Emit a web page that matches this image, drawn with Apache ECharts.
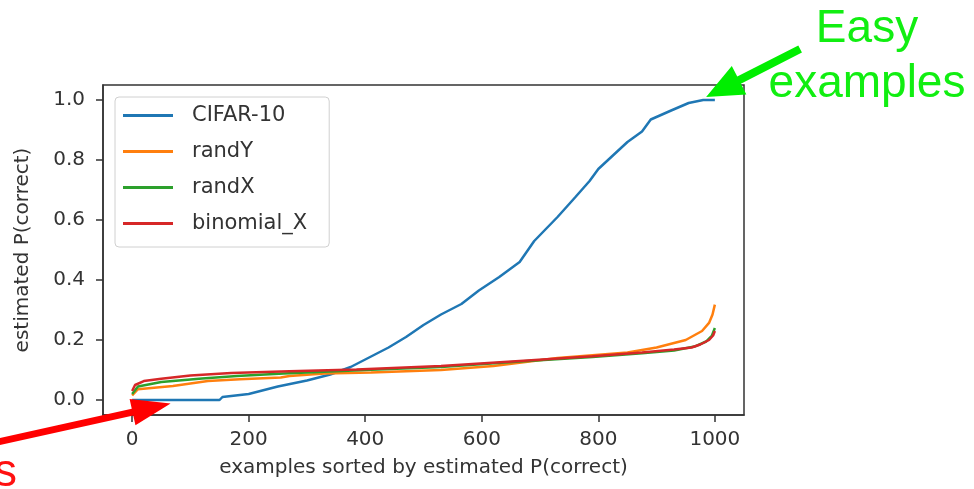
<!DOCTYPE html>
<html>
<head>
<meta charset="utf-8">
<script src="https://cdn.jsdelivr.net/npm/echarts@6/dist/echarts.min.js"></script>
<style>
  html, body { margin: 0; padding: 0; background: #fff; }
  #chart { width: 974px; height: 489px; }
</style>
</head>
<body>
<div id="chart"></div>
<script>
// values
var seriesNames = ['CIFAR-10', 'randY', 'randX', 'binomial_X'];
var seriesColors = ['#1f77b4', '#ff7f0e', '#2ca02c', '#d62728'];

var cifarX = [0, 150, 155, 200, 250, 300, 340, 375, 410, 440, 470, 500, 530, 565, 595, 630, 665, 690, 710, 730, 760, 785, 800, 825, 850, 875, 890, 925, 955, 980, 1000];
var cifarY = [0, 0, 0.01, 0.02, 0.045, 0.065, 0.085, 0.11, 0.145, 0.175, 0.21, 0.25, 0.285, 0.32, 0.365, 0.41, 0.46, 0.53, 0.57, 0.61, 0.675, 0.73, 0.77, 0.815, 0.86, 0.895, 0.935, 0.965, 0.99, 1.0, 1.0];

var randYX = [0, 10, 70, 130, 185, 255, 270, 330, 410, 530, 620, 730, 850, 900, 950, 978, 990, 996, 1000];
var randYY = [0.015, 0.036, 0.047, 0.063, 0.069, 0.075, 0.08, 0.088, 0.092, 0.1, 0.113, 0.14, 0.158, 0.175, 0.2, 0.23, 0.257, 0.285, 0.318];

var randXX = [0, 10, 50, 120, 180, 260, 340, 400, 530, 665, 790, 875, 930, 965, 985, 995, 1000];
var randXY = [0.02, 0.045, 0.06, 0.072, 0.08, 0.088, 0.095, 0.1, 0.11, 0.128, 0.143, 0.156, 0.165, 0.178, 0.195, 0.215, 0.24];

var binomX = [0, 5, 20, 50, 100, 170, 270, 385, 530, 665, 790, 875, 930, 960, 975, 990, 997, 1000];
var binomY = [0.03, 0.05, 0.063, 0.071, 0.082, 0.09, 0.096, 0.102, 0.113, 0.13, 0.146, 0.158, 0.168, 0.175, 0.185, 0.2, 0.215, 0.23];

var xTicks = [0, 200, 400, 600, 800, 1000];
var yTicks = [0, 0.2, 0.4, 0.6, 0.8, 1.0];

// where the arrows point, in data units
var easyPoint = [985, 1.01];
var hardPoint = [66, -0.012];

function pairs(xs, ys) {
  var out = [];
  for (var i = 0; i < xs.length; i++) out.push([xs[i], ys[i]]);
  return out;
}

var allData = [pairs(cifarX, cifarY), pairs(randYX, randYY), pairs(randXX, randXY), pairs(binomX, binomY)];

var myChart = echarts.init(document.getElementById('chart'));
var fontFam = 'DejaVu Sans';

var series = [];
for (var i = 0; i < seriesNames.length; i++) {
  series.push({
    name: seriesNames[i],
    type: 'line',
    data: allData[i],
    symbol: 'none',
    smooth: false,
    animation: false,
    lineStyle: { color: seriesColors[i], width: 2.5 },
    itemStyle: { color: seriesColors[i] },
    z: 2 + i
  });
}

var option = {
  backgroundColor: '#fff',
  textStyle: { fontFamily: fontFam },
  grid: {
    left: 103, right: 230, top: 85, bottom: 74,
    show: true, borderColor: '#333', borderWidth: 1.5
  },
  legend: {
    data: seriesNames,
    orient: 'vertical',
    left: 115, top: 97,
    padding: [8, 22, 13, 8],
    icon: 'rect',
    itemWidth: 50, itemHeight: 3, itemGap: 15,
    backgroundColor: 'rgba(255,255,255,0.8)',
    borderColor: '#d0d0d0', borderWidth: 1, borderRadius: 4,
    textStyle: { fontFamily: fontFam, fontSize: 21, color: '#333', lineHeight: 20, padding: [0, 0, 0, 14] }
  },
  xAxis: {
    type: 'value',
    min: -50, max: 1050,
    name: 'examples sorted by estimated P(correct)',
    nameLocation: 'middle',
    nameGap: 43,
    nameTextStyle: { fontFamily: fontFam, fontSize: 20, color: '#333' },
    axisLine: { show: true, onZero: false, lineStyle: { color: '#333', width: 1.5 } },
    axisTick: { show: true, length: 7, lineStyle: { color: '#333', width: 1.5 }, customValues: xTicks },
    axisLabel: {
      fontFamily: fontFam, fontSize: 20, color: '#333', margin: 15, customValues: xTicks,
      formatter: function (v) { return String(v); }
    },
    splitLine: { show: false }
  },
  yAxis: {
    type: 'value',
    min: -0.05, max: 1.05,
    name: 'estimated P(correct)',
    nameLocation: 'middle',
    nameGap: 70,
    nameRotate: 90,
    nameTextStyle: { fontFamily: fontFam, fontSize: 20, color: '#333' },
    axisLine: { show: true, onZero: false, lineStyle: { color: '#333', width: 1.5 } },
    axisTick: { show: true, length: 7, lineStyle: { color: '#333', width: 1.5 }, customValues: yTicks },
    axisLabel: {
      fontFamily: fontFam, fontSize: 20, color: '#333', margin: 18, customValues: yTicks,
      formatter: function (v) { return v.toFixed(1); }
    },
    splitLine: { show: false }
  },
  series: series
};

myChart.setOption(option);

// arrow as one polygon: shaft + head
function arrowPoints(tip, tail, headLen, headW, shaftW) {
  var dx = tip[0] - tail[0], dy = tip[1] - tail[1];
  var len = Math.sqrt(dx * dx + dy * dy);
  var ux = dx / len, uy = dy / len;
  var nx = -uy, ny = ux;
  var bx = tip[0] - ux * headLen, by = tip[1] - uy * headLen;
  var s = shaftW / 2, h = headW / 2;
  return [
    [tail[0] + nx * s, tail[1] + ny * s],
    [bx + nx * s, by + ny * s],
    [bx + nx * h, by + ny * h],
    [tip[0], tip[1]],
    [bx - nx * h, by - ny * h],
    [bx - nx * s, by - ny * s],
    [tail[0] - nx * s, tail[1] - ny * s]
  ];
}

var easyTip = myChart.convertToPixel({ gridIndex: 0 }, easyPoint);
var hardTip = myChart.convertToPixel({ gridIndex: 0 }, hardPoint);

myChart.setOption({
  graphic: [
    {
      type: 'polygon',
      shape: { points: arrowPoints(easyTip, [easyTip[0] + 94, easyTip[1] - 48], 37, 32, 8) },
      style: { fill: '#00ee00' },
      z: 100
    },
    {
      type: 'polygon',
      shape: { points: arrowPoints(hardTip, [hardTip[0] - 180, hardTip[1] + 40], 39, 27, 7) },
      style: { fill: '#ff0000' },
      z: 100
    },
    {
      type: 'text',
      x: 867, y: 2,
      style: {
        text: 'Easy\nexamples',
        fontFamily: 'Liberation Sans',
        fontSize: 46,
        lineHeight: 55,
        fill: '#11ee11',
        align: 'center',
        verticalAlign: 'top'
      },
      z: 100
    },
    {
      type: 'text',
      x: 17, y: 446,
      style: {
        text: 's',
        fontFamily: 'Liberation Sans',
        fontSize: 46,
        lineHeight: 55,
        fill: '#ff1111',
        align: 'right',
        verticalAlign: 'top'
      },
      z: 100
    }
  ]
});
</script>
</body>
</html>
